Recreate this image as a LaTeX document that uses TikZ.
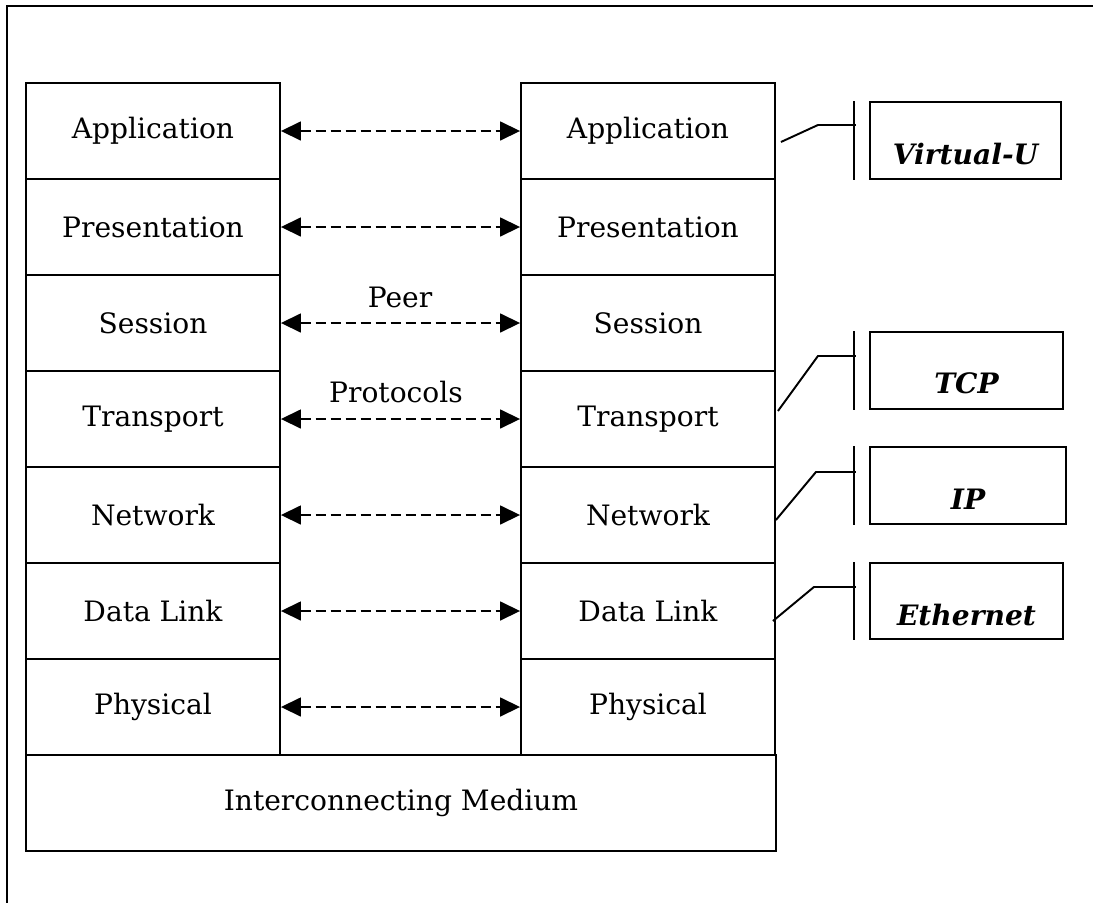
\documentclass[tikz,border=0pt]{standalone}
\usepackage{fontspec}
\setmainfont{DejaVu Serif}
\usetikzlibrary{arrows.meta}

\begin{document}
\begin{tikzpicture}[x=0.02cm,y=-0.02cm]
  \tikzstyle{layer}=[rectangle,draw,line width=1.1pt,minimum width=5.08cm,minimum height=1.92cm,
                     font=\fontsize{16}{19}\selectfont,inner sep=0pt]
  \tikzstyle{peer}=[dashed,dash pattern=on 0.2cm off 0.1cm,line width=0.9pt,
                    {Triangle[length=0.4cm,width=0.38cm]}-{Triangle[length=0.4cm,width=0.38cm]}]
  \tikzstyle{callbox}=[rectangle,draw,line width=1.1pt,inner sep=0pt]
  \tikzstyle{calltext}=[font=\fontsize{16}{19}\selectfont\bfseries\itshape,inner sep=0pt]
  \tikzstyle{callline}=[line width=1.1pt]
  \useasboundingbox (0,0) rectangle (1093,903);
  % outer frame
  \draw[line width=1.4pt] (7,903) -- (7,6) -- (1093,6);
  % the two stacks
  \foreach \name [count=\i] in {Application,Presentation,Session,Transport,Network,Data Link,Physical}{
    \node[layer] (l\i) at (153,{131+96*(\i-1)}) {\name};
    \node[layer] (r\i) at (648,{131+96*(\i-1)}) {\name};
    \draw[peer] (l\i.east) -- (r\i.west);
  }
  \node[layer,minimum width=15cm] (medium) at (401,803) {Interconnecting Medium};
  \node[font=\fontsize{16}{19}\selectfont] (peertxt) at (400,297) {Peer};
  \node[font=\fontsize{16}{19}\selectfont] (prottxt) at (396,392) {Protocols};
  % protocol boxes
  \node[callbox,minimum width=3.82cm,minimum height=1.54cm] (vu) at (965.5,140.5) {};
  \node[callbox,minimum width=3.86cm,minimum height=1.54cm] (tcp) at (966.5,370.5) {};
  \node[callbox,minimum width=3.92cm,minimum height=1.54cm] (ip) at (968,485.5) {};
  \node[callbox,minimum width=3.86cm,minimum height=1.52cm] (eth) at (966.5,601) {};
  \node[calltext] (vutxt) at ([yshift=-0.28cm]vu.center) {Virtual-U};
  \node[calltext] (tcptxt) at ([yshift=-0.26cm]tcp.center) {TCP};
  \node[calltext] (iptxt) at ([yshift=-0.28cm]ip.center) {IP};
  \node[calltext] (ethtxt) at ([yshift=-0.28cm]eth.center) {Ethernet};
  \foreach \b in {vu,tcp,ip,eth}
    \draw[callline] ([xshift=-0.3cm]\b.north west) -- ([xshift=-0.3cm]\b.south west);
  \draw[callline] ([shift={(5,11)}]r1.east) -- ++(37,-17) -- ++(38,0);
  \draw[callline] ([shift={(2,-8)}]r4.east) -- ++(40,-55) -- ++(38,0);
  \draw[callline] ([shift={(0,5)}]r5.east) -- ++(40,-48) -- ++(40,0);
  \draw[callline] ([shift={(-3,10)}]r6.east) -- ++(41,-34) -- ++(42,0);
\end{tikzpicture}
\end{document}
